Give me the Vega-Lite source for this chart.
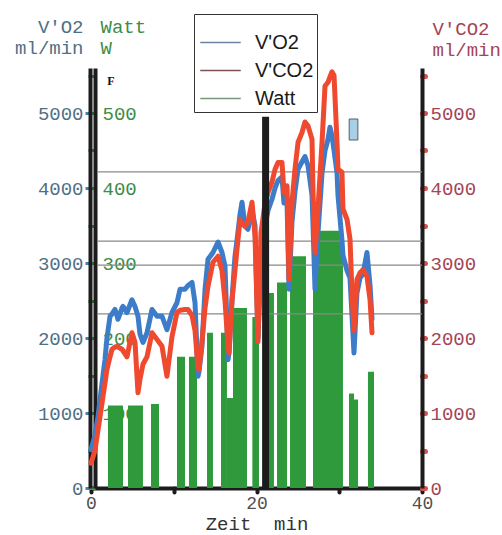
{
  "$schema": "https://vega.github.io/schema/vega-lite/v6.json",
  "width": 331,
  "height": 420,
  "autosize": {"type": "none"},
  "padding": {"left": 91, "top": 68, "right": 80, "bottom": 47},
  "background": "white",
  "config": {
    "view": {"stroke": null},
    "axis": {"grid": false, "labelFont": "Liberation Mono", "titleFont": "Liberation Mono", "labelFontSize": 19, "titleFontSize": 19, "titleFontWeight": "normal", "labelFlush": false, "labelOverlap": false},
    "legend": {
      "orient": "none", "legendX": 103, "legendY": -54,
      "symbolType": "M-1.5,0H1.5", "symbolSize": 729, "symbolStrokeWidth": 1.3, "symbolOffset": 9,
      "labelFont": "Liberation Sans", "labelFontSize": 20, "labelColor": "#1a1a1a", "labelOffset": 20,
      "strokeColor": "#333333", "fillColor": "#ffffff", "padding": 3, "rowPadding": 3,
      "titleFontSize": 11, "titlePadding": 0
    }
  },
  "datasets": {
    "gas": [
      {"t": 0.00, "vo2": 510, "vco2": 330},
      {"t": 0.48, "vo2": 700, "vco2": 500},
      {"t": 0.85, "vo2": 950, "vco2": 775},
      {"t": 1.09, "vo2": 1180, "vco2": 950},
      {"t": 1.45, "vo2": 1500, "vco2": 1220},
      {"t": 1.69, "vo2": 1710, "vco2": 1400},
      {"t": 1.93, "vo2": 2000, "vco2": 1580},
      {"t": 2.30, "vo2": 2290, "vco2": 1750},
      {"t": 2.54, "vo2": 2320, "vco2": 1850},
      {"t": 2.90, "vo2": 2380, "vco2": 1880},
      {"t": 3.14, "vo2": 2300, "vco2": 1890},
      {"t": 3.26, "vo2": 2250, "vco2": 1880},
      {"t": 3.75, "vo2": 2400, "vco2": 1850},
      {"t": 3.87, "vo2": 2420, "vco2": 1830},
      {"t": 4.35, "vo2": 2340, "vco2": 1750},
      {"t": 4.95, "vo2": 2510, "vco2": 2070},
      {"t": 5.32, "vo2": 2420, "vco2": 1940},
      {"t": 5.68, "vo2": 2290, "vco2": 1270},
      {"t": 5.92, "vo2": 2050, "vco2": 1450},
      {"t": 6.28, "vo2": 1940, "vco2": 1650},
      {"t": 6.77, "vo2": 2070, "vco2": 1750},
      {"t": 7.37, "vo2": 2380, "vco2": 2070},
      {"t": 7.98, "vo2": 2290, "vco2": 1980},
      {"t": 8.58, "vo2": 2290, "vco2": 1890},
      {"t": 9.18, "vo2": 2110, "vco2": 1490},
      {"t": 9.79, "vo2": 2340, "vco2": 2020},
      {"t": 10.39, "vo2": 2470, "vco2": 2340},
      {"t": 10.76, "vo2": 2650, "vco2": 2370},
      {"t": 11.36, "vo2": 2650, "vco2": 2380},
      {"t": 11.72, "vo2": 2700, "vco2": 2380},
      {"t": 12.21, "vo2": 2740, "vco2": 2300},
      {"t": 12.57, "vo2": 2470, "vco2": 2100},
      {"t": 12.93, "vo2": 1490, "vco2": 1600},
      {"t": 13.05, "vo2": 1550, "vco2": 1580},
      {"t": 13.41, "vo2": 1890, "vco2": 1950},
      {"t": 13.78, "vo2": 2650, "vco2": 2400},
      {"t": 14.14, "vo2": 3050, "vco2": 2690},
      {"t": 14.74, "vo2": 3140, "vco2": 3010},
      {"t": 15.35, "vo2": 3280, "vco2": 3090},
      {"t": 15.83, "vo2": 3140, "vco2": 2900},
      {"t": 16.19, "vo2": 2960, "vco2": 2500},
      {"t": 16.43, "vo2": 2200, "vco2": 2110},
      {"t": 16.56, "vo2": 1710, "vco2": 1900},
      {"t": 16.68, "vo2": 1800, "vco2": 1800},
      {"t": 17.04, "vo2": 2510, "vco2": 2500},
      {"t": 17.40, "vo2": 3090, "vco2": 2900},
      {"t": 17.64, "vo2": 3300, "vco2": 3180},
      {"t": 18.01, "vo2": 3650, "vco2": 3580},
      {"t": 18.25, "vo2": 3810, "vco2": 3520},
      {"t": 18.61, "vo2": 3490, "vco2": 3490},
      {"t": 18.97, "vo2": 3450, "vco2": 3550},
      {"t": 19.46, "vo2": 3700, "vco2": 3810},
      {"t": 19.82, "vo2": 3500, "vco2": 3360},
      {"t": 20.18, "vo2": 2000, "vco2": 1950},
      {"t": 20.54, "vo2": 3000, "vco2": 3400},
      {"t": 21.03, "vo2": 3500, "vco2": 3800},
      {"t": 21.39, "vo2": 3700, "vco2": 3940},
      {"t": 21.87, "vo2": 3850, "vco2": 4080},
      {"t": 22.24, "vo2": 4000, "vco2": 4250},
      {"t": 22.60, "vo2": 4100, "vco2": 4340},
      {"t": 23.08, "vo2": 4150, "vco2": 4340},
      {"t": 23.32, "vo2": 3800, "vco2": 3940},
      {"t": 23.69, "vo2": 3800, "vco2": 4030},
      {"t": 23.93, "vo2": 2650, "vco2": 2780},
      {"t": 24.29, "vo2": 3550, "vco2": 3810},
      {"t": 24.65, "vo2": 3950, "vco2": 4250},
      {"t": 25.02, "vo2": 4250, "vco2": 4610},
      {"t": 25.50, "vo2": 4350, "vco2": 4740},
      {"t": 25.86, "vo2": 4420, "vco2": 4880},
      {"t": 26.22, "vo2": 4300, "vco2": 4830},
      {"t": 26.71, "vo2": 3900, "vco2": 4650},
      {"t": 26.83, "vo2": 3500, "vco2": 3940},
      {"t": 27.07, "vo2": 2650, "vco2": 3140},
      {"t": 27.43, "vo2": 3400, "vco2": 3720},
      {"t": 27.92, "vo2": 4200, "vco2": 4610},
      {"t": 28.28, "vo2": 4500, "vco2": 5360},
      {"t": 28.64, "vo2": 4650, "vco2": 5410},
      {"t": 28.88, "vo2": 4810, "vco2": 5480},
      {"t": 29.12, "vo2": 4700, "vco2": 5550},
      {"t": 29.37, "vo2": 4500, "vco2": 5500},
      {"t": 29.73, "vo2": 4200, "vco2": 4610},
      {"t": 29.85, "vo2": 3900, "vco2": 4250},
      {"t": 30.33, "vo2": 3300, "vco2": 4210},
      {"t": 30.45, "vo2": 3100, "vco2": 3720},
      {"t": 30.94, "vo2": 2900, "vco2": 3580},
      {"t": 31.30, "vo2": 2800, "vco2": 3320},
      {"t": 31.54, "vo2": 2300, "vco2": 2600},
      {"t": 31.78, "vo2": 1800, "vco2": 2100},
      {"t": 32.14, "vo2": 2600, "vco2": 2780},
      {"t": 32.51, "vo2": 2800, "vco2": 2870},
      {"t": 32.87, "vo2": 2850, "vco2": 2910},
      {"t": 33.35, "vo2": 3140, "vco2": 2820},
      {"t": 33.72, "vo2": 2700, "vco2": 2510},
      {"t": 33.96, "vo2": 2250, "vco2": 2070}
    ],
    "watt": [
      {"t": 2.05, "t1": 3.87, "w": 110},
      {"t": 4.47, "t1": 6.28, "w": 110},
      {"t": 7.25, "t1": 8.22, "w": 112},
      {"t": 10.39, "t1": 11.36, "w": 175},
      {"t": 11.84, "t1": 12.81, "w": 175},
      {"t": 14.02, "t1": 14.74, "w": 207},
      {"t": 15.71, "t1": 16.43, "w": 207},
      {"t": 16.43, "t1": 17.16, "w": 120},
      {"t": 17.16, "t1": 18.85, "w": 240},
      {"t": 19.5, "t1": 20.3, "w": 228},
      {"t": 21.39, "t1": 22.11, "w": 260},
      {"t": 22.48, "t1": 23.69, "w": 274},
      {"t": 24.05, "t1": 25.98, "w": 309},
      {"t": 26.83, "t1": 30.45, "w": 343},
      {"t": 31.18, "t1": 31.78, "w": 126},
      {"t": 31.78, "t1": 32.27, "w": 118},
      {"t": 33.47, "t1": 34.2, "w": 155}
    ],
    "refs": [
      {"t": 0.75, "t1": 40, "level": 4216},
      {"t": 0.75, "t1": 40, "level": 3293},
      {"t": 0.75, "t1": 40, "level": 2972},
      {"t": 0.75, "t1": 40, "level": 2322}
    ],
    "marker": [
      {"t": 21.1, "lo": 0, "hi": 4950}
    ],
    "box": [
      {"t": 31.2, "t1": 32.25, "lo": 4640, "hi": 4920}
    ],
    "note": [
      {"t": 2.4, "v": 5430, "label": "F"}
    ]
  },
  "encoding": {
    "x": {
      "field": "t", "type": "quantitative",
      "scale": {"domain": [0, 40], "nice": false, "zero": false},
      "axis": {
        "values": [0, 10, 20, 30, 40],
        "labelExpr": "datum.value % 20 == 0 ? datum.label : ''",
        "domainColor": "#1c1c1c", "domainWidth": 4,
        "tickColor": "#1c1c1c", "tickSize": 4, "tickWidth": 4, "tickCap": "round",
        "labelColor": "#505050", "labelPadding": 2, "labelFontSize": 18,
        "title": "Zeit\u00a0\u00a0min", "titleColor": "#333333", "titleY": 41, "titleBaseline": "alphabetic"
      }
    }
  },
  "layer": [
    {
      "data": {"name": "watt"},
      "mark": {"type": "rect", "fill": "#2f9a3c"},
      "encoding": {
        "x2": {"field": "t1"},
        "y": {
          "field": "w", "type": "quantitative",
          "scale": {"domain": [0, 560], "nice": false, "zero": true},
          "axis": {
            "orient": "left", "offset": -4,
            "values": [0, 50, 100, 150, 200, 250, 300, 350, 400, 450, 500, 550],
            "format": "d",
            "labelExpr": "datum.value % 100 == 0 && datum.value > 0 ? datum.label : ''",
            "domainColor": "#1c1c1c", "domainWidth": 4,
            "tickColor": "#3f9a4a", "tickSize": 7, "tickWidth": 3,
            "labelAlign": "left", "labelPadding": -14, "labelColor": "#3d8c47",
            "title": ["Watt", "W"], "titleAngle": 0, "titleAlign": "left", "titleBaseline": "top",
            "titleX": 5, "titleY": -51, "titleLineHeight": 21, "titleColor": "#3d8c47"
          }
        },
        "y2": {"datum": 0},
        "color": {
          "datum": "Watt",
          "scale": {"domain": ["V'O2", "V'CO2", "Watt"], "range": ["#6a84a0", "#805050", "#78967a"]},
          "legend": {"title": "\u00a0", "symbolType": "M-1.5,0H1.5"}
        }
      }
    },
    {
      "layer": [
        {
          "data": {"name": "refs"},
          "mark": {"type": "rule", "color": "#8a8a8a", "strokeWidth": 1.2},
          "encoding": {
            "x2": {"field": "t1"},
            "y": {"field": "level", "type": "quantitative", "scale": {"domain": [0, 5600], "nice": false, "zero": true}, "axis": null}
          }
        },
        {
          "data": {"name": "gas"},
          "mark": {"type": "line", "stroke": "#3d7cc9", "strokeWidth": 5, "strokeJoin": "round", "strokeCap": "round"},
          "encoding": {
            "y": {
              "field": "vo2", "type": "quantitative",
              "scale": {"domain": [0, 5600], "nice": false, "zero": true},
              "axis": {
                "orient": "left", "offset": 1,
                "values": [0, 1000, 2000, 3000, 4000, 5000],
                "format": "d",
                "domainColor": "#1c1c1c", "domainWidth": 4,
                "tickColor": "#4f7fa8", "tickSize": 5, "tickWidth": 3,
                "labelColor": "#4f6f86", "labelPadding": 2,
                "title": ["V'O2", "ml/min"], "titleAngle": 0, "titleAlign": "right", "titleBaseline": "top",
                "titleX": -7, "titleY": -51, "titleLineHeight": 21, "titleColor": "#4f6f86"
              }
            },
            "color": {
              "datum": "V'O2",
              "scale": {"domain": ["V'O2", "V'CO2", "Watt"], "range": ["#6a84a0", "#805050", "#78967a"]},
              "legend": {"title": "\u00a0", "symbolType": "M-1.5,0H1.5"}
            }
          }
        },
        {
          "data": {"name": "gas"},
          "mark": {"type": "line", "stroke": "#ef4a30", "strokeWidth": 5, "strokeJoin": "round", "strokeCap": "round"},
          "encoding": {
            "y": {
              "field": "vco2", "type": "quantitative",
              "scale": {"domain": [0, 5600], "nice": false, "zero": true},
              "axis": {
                "orient": "right",
                "values": [0, 500, 1000, 1500, 2000, 2500, 3000, 3500, 4000, 4500, 5000, 5500],
                "format": "d",
                "labelExpr": "datum.value % 1000 == 0 ? datum.label : ''",
                "domainColor": "#1c1c1c", "domainWidth": 4,
                "tickColor": "#d9534f", "tickSize": 3, "tickWidth": 5, "tickCap": "round",
                "labelColor": "#a34556", "labelPadding": 5,
                "title": ["V'CO2", "ml/min"], "titleAngle": 0, "titleAlign": "left", "titleBaseline": "top",
                "titleX": 10, "titleY": -49, "titleLineHeight": 21, "titleColor": "#a34556"
              }
            },
            "color": {
              "datum": "V'CO2",
              "scale": {"domain": ["V'O2", "V'CO2", "Watt"], "range": ["#6a84a0", "#805050", "#78967a"]},
              "legend": {"title": "\u00a0", "symbolType": "M-1.5,0H1.5"}
            }
          }
        },
        {
          "data": {"name": "marker"},
          "mark": {"type": "rule", "color": "#1c1c1c", "strokeWidth": 7},
          "encoding": {
            "y": {"field": "lo", "type": "quantitative", "scale": {"domain": [0, 5600], "nice": false, "zero": true}, "axis": null},
            "y2": {"field": "hi"}
          }
        },
        {
          "data": {"name": "box"},
          "mark": {"type": "rect", "fill": "#a8cfe6", "stroke": "#50606e", "strokeWidth": 1},
          "encoding": {
            "x2": {"field": "t1"},
            "y": {"field": "lo", "type": "quantitative", "scale": {"domain": [0, 5600], "nice": false, "zero": true}, "axis": null},
            "y2": {"field": "hi"}
          }
        },
        {
          "data": {"name": "note"},
          "mark": {"type": "text", "font": "Liberation Serif", "fontWeight": "bold", "fontSize": 12, "color": "#111111"},
          "encoding": {
            "y": {"field": "v", "type": "quantitative", "scale": {"domain": [0, 5600], "nice": false, "zero": true}, "axis": null},
            "text": {"field": "label"}
          }
        }
      ],
      "resolve": {"scale": {"y": "shared"}, "axis": {"y": "independent"}}
    }
  ],
  "resolve": {"scale": {"y": "independent"}, "axis": {"y": "independent"}}
}
